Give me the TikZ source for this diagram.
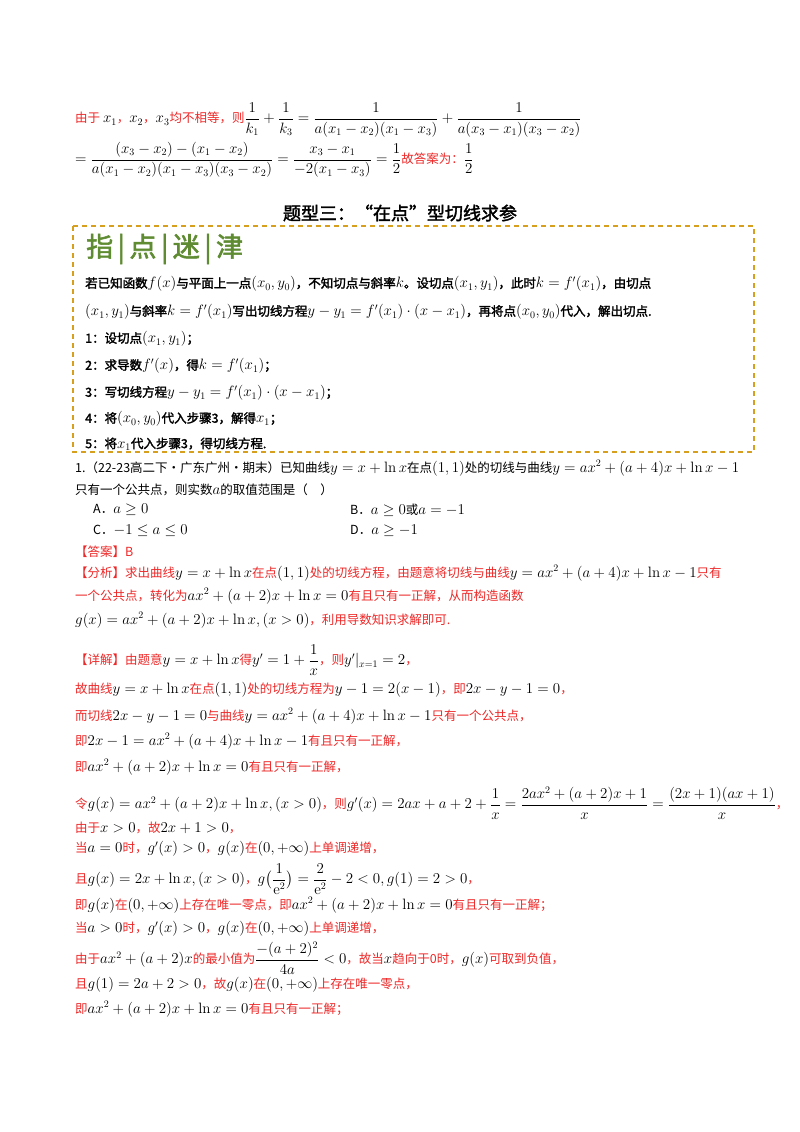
\RequirePackage{fix-cm}
\documentclass[tikz,border=0pt]{standalone}
\usepackage{amsmath,amssymb}
\usepackage[no-math]{fontspec}
\setmainfont[BoldFont={Noto Sans CJK SC},BoldFeatures={FakeBold=2}]{Noto Sans CJK SC}
\DeclareMathSizes{12.5}{15}{10}{8}
\definecolor{myred}{RGB}{238,40,40}
\definecolor{gold}{RGB}{214,160,30}
\definecolor{mygreen}{RGB}{95,140,50}
\newcommand\Rd[1]{\textcolor{myred}{#1}}
\tikzset{ln/.style={anchor=west,inner sep=0pt,font=\fontsize{12.5}{15}\selectfont},
 bx/.style={ln,font=\fontsize{12.5}{15}\selectfont\bfseries}}
\begin{document}
\begin{tikzpicture}[x=1pt,y=-1pt]
\useasboundingbox[fill=white] (0,0) rectangle (800,1132);
\node[ln] (l1) at (75,120) {\Rd{由于} $x_1$\Rd{，}$x_2$\Rd{，}$x_3$\Rd{均不相等，则}$\dfrac{1}{k_1}+\dfrac{1}{k_3}=\dfrac{1}{a(x_1-x_2)(x_1-x_3)}+\dfrac{1}{a(x_3-x_1)(x_3-x_2)}$};
\node[ln] (l2) at (75,160) {$=\dfrac{(x_3-x_2)-(x_1-x_2)}{a(x_1-x_2)(x_1-x_3)(x_3-x_2)}=\dfrac{x_3-x_1}{-2(x_1-x_3)}=\dfrac12$\Rd{故答案为：}$\dfrac12$};
\node[inner sep=0pt,font=\fontsize{18}{20}\selectfont\bfseries] (title) at (400,213) {题型三：“在点”型切线求参};
\draw[gold,line width=1.2pt,dash pattern=on 5pt off 4pt] (73,226) rectangle (754,452);
\node[anchor=west,inner sep=0pt,text=mygreen,font=\fontsize{27}{30}\selectfont\bfseries] (zd) at (86,249) {指\,\textbf{|}\,点\,\textbf{|}\,迷\,\textbf{|}\,津};
\node[bx] (b1) at (85,284) {若已知函数$f(x)$与平面上一点$(x_0,y_0)$，不知切点与斜率$k$。设切点$(x_1,y_1)$，此时$k=f'(x_1)$，由切点};
\node[bx] (b2) at (85,312) {$(x_1,y_1)$与斜率$k=f'(x_1)$写出切线方程$y-y_1=f'(x_1)\cdot(x-x_1)$，再将点$(x_0,y_0)$代入，解出切点.};
\node[bx] (b3) at (85,339) {1：设切点$(x_1,y_1)$；};
\node[bx] (b4) at (85,366) {2：求导数$f'(x)$，得$k=f'(x_1)$；};
\node[bx] (b5) at (85,393) {3：写切线方程$y-y_1=f'(x_1)\cdot(x-x_1)$；};
\node[bx] (b6) at (85,419) {4：将$(x_0,y_0)$代入步骤3，解得$x_1$；};
\node[bx] (b7) at (85,444) {5：将$x_1$代入步骤3，得切线方程.};
\node[ln] (q1) at (75,468) {1.（22-23高二下·广东广州·期末）已知曲线$y=x+\ln x$在点$(1,1)$处的切线与曲线$y=ax^2+(a+4)x+\ln x-1$};
\node[ln] (q2) at (75,490) {只有一个公共点，则实数$a$的取值范围是（\quad）};
\node[ln] (oa) at (93,510) {A．$a\geq 0$};
\node[ln] (ob) at (350,510) {B．$a\geq 0$或$a=-1$};
\node[ln] (oc) at (93,531) {C．$-1\leq a\leq 0$};
\node[ln] (od) at (350,531) {D．$a\geq -1$};
\node[ln] (ans) at (75,552) {\Rd{【答案】B}};
\node[ln] (f1) at (75,573) {\Rd{【分析】求出曲线}$y=x+\ln x$\Rd{在点}$(1,1)$\Rd{处的切线方程，由题意将切线与曲线}$y=ax^2+(a+4)x+\ln x-1$\Rd{只有}};
\node[ln] (f2) at (75,596) {\Rd{一个公共点，转化为}$ax^2+(a+2)x+\ln x=0$\Rd{有且只有一正解，从而构造函数}};
\node[ln] (f3) at (75,620) {$g(x)=ax^2+(a+2)x+\ln x,(x>0)$\Rd{，利用导数知识求解即可.}};
\node[ln] (d1) at (75,660) {\Rd{【详解】由题意}$y=x+\ln x$\Rd{得}$y'=1+\dfrac1x$\Rd{，则}$y'|_{x=1}=2$\Rd{，}};
\node[ln] (d2) at (75,690) {\Rd{故曲线}$y=x+\ln x$\Rd{在点}$(1,1)$\Rd{处的切线方程为}$y-1=2(x-1)$\Rd{，即}$2x-y-1=0$\Rd{，}};
\node[ln] (d3) at (75,716) {\Rd{而切线}$2x-y-1=0$\Rd{与曲线}$y=ax^2+(a+4)x+\ln x-1$\Rd{只有一个公共点，}};
\node[ln] (d4) at (75,741) {\Rd{即}$2x-1=ax^2+(a+4)x+\ln x-1$\Rd{有且只有一正解，}};
\node[ln] (d5) at (75,767) {\Rd{即}$ax^2+(a+2)x+\ln x=0$\Rd{有且只有一正解，}};
\node[ln] (d6) at (75,803) {\Rd{令}$g(x)=ax^2+(a+2)x+\ln x,(x>0)$\Rd{，则}$g'(x)=2ax+a+2+\dfrac1x=\dfrac{2ax^2+(a+2)x+1}{x}=\dfrac{(2x+1)(ax+1)}{x}$\Rd{，}};
\node[ln] (d7) at (75,828) {\Rd{由于}$x>0$\Rd{，故}$2x+1>0$\Rd{，}};
\node[ln] (d8) at (75,849) {\Rd{当}$a=0$\Rd{时，}$g'(x)>0$\Rd{，}$g(x)$\Rd{在}$(0,+\infty)$\Rd{上单调递增，}};
\node[ln] (d9) at (75,879) {\Rd{且}$g(x)=2x+\ln x,(x>0)$\Rd{，}$g\bigl(\dfrac{1}{\mathrm{e}^2}\bigr)=\dfrac{2}{\mathrm{e}^2}-2<0,g(1)=2>0$\Rd{，}};
\node[ln] (d10) at (75,905) {\Rd{即}$g(x)$\Rd{在}$(0,+\infty)$\Rd{上存在唯一零点，即}$ax^2+(a+2)x+\ln x=0$\Rd{有且只有一正解；}};
\node[ln] (d11) at (75,929) {\Rd{当}$a>0$\Rd{时，}$g'(x)>0$\Rd{，}$g(x)$\Rd{在}$(0,+\infty)$\Rd{上单调递增，}};
\node[ln] (d12) at (75,958) {\Rd{由于}$ax^2+(a+2)x$\Rd{的最小值为}$\dfrac{-(a+2)^2}{4a}<0$\Rd{，故当}$x$\Rd{趋向于0时，}$g(x)$\Rd{可取到负值，}};
\node[ln] (d13) at (75,985) {\Rd{且}$g(1)=2a+2>0$\Rd{，故}$g(x)$\Rd{在}$(0,+\infty)$\Rd{上存在唯一零点，}};
\node[ln] (d14) at (75,1009) {\Rd{即}$ax^2+(a+2)x+\ln x=0$\Rd{有且只有一正解；}};
\end{tikzpicture}
\end{document}
